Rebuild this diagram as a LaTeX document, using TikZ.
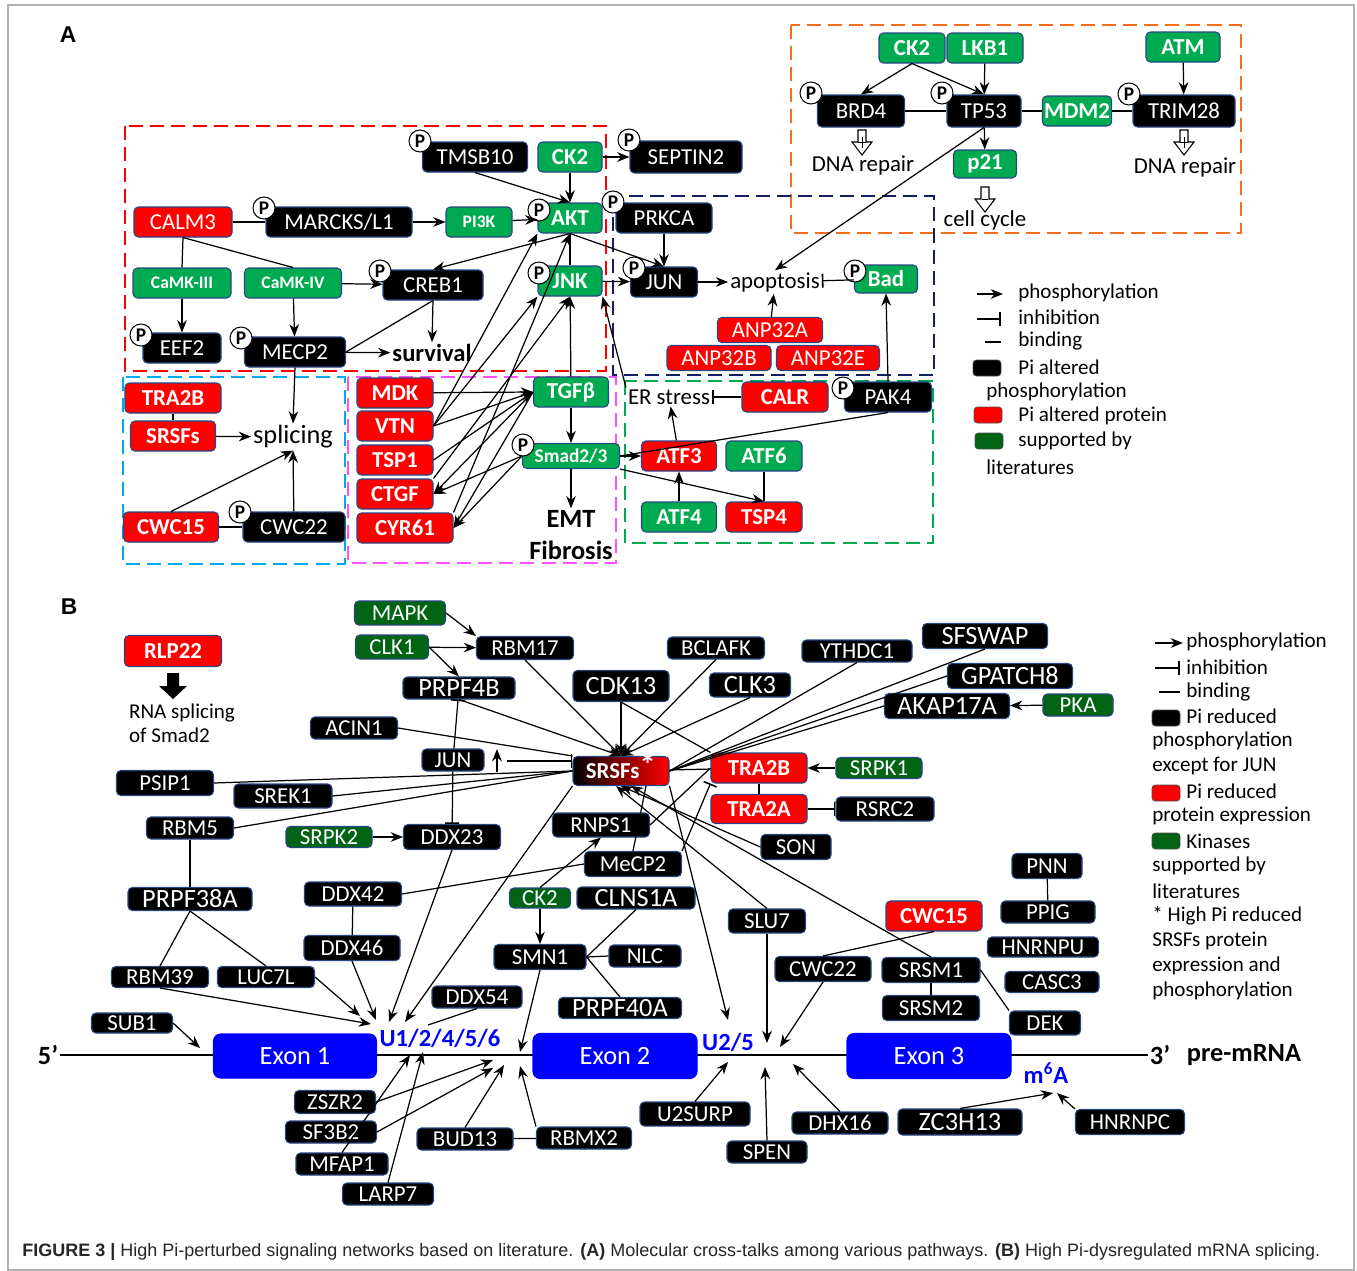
\documentclass[tikz,border=0pt]{standalone}
\usepackage{fontspec}
\setmainfont{Carlito}
\newfontfamily\capfont{Liberation Sans}
\usepackage{graphicx}
\usetikzlibrary{arrows.meta}

\definecolor{boxline}{RGB}{40,70,130}
\definecolor{pired}{RGB}{255,0,0}
\definecolor{agreen}{RGB}{0,170,80}
\definecolor{bgreen}{RGB}{0,100,20}
\definecolor{exblue}{RGB}{0,0,255}
\definecolor{dorange}{RGB}{245,110,30}
\definecolor{dnavy}{RGB}{20,30,100}
\definecolor{dcyan}{RGB}{0,170,240}
\definecolor{dmag}{RGB}{255,80,255}

\tikzset{
  bw/.style={minimum width=#1*0.02cm},
  bh/.style={minimum height=#1*0.02cm},
  box/.style={rectangle, rounded corners=2.5pt, draw=boxline, line width=0.6pt,
    text=white, inner sep=1pt, font=\fontsize{13}{15}\selectfont},
  blk/.style={box, fill=black, bh=30},
  rd/.style={box, fill=pired, bh=30},
  rdb/.style={rd, font=\fontsize{13}{15}\selectfont\bfseries},
  ga/.style={box, fill=agreen, bh=30, font=\fontsize{13}{15}\selectfont\bfseries},
  gas/.style={ga, font=\fontsize{10}{12}\selectfont\bfseries},
  bb/.style={box, fill=black, bh=23},
  gb/.style={box, fill=bgreen, bh=23},
  big/.style={font=\fontsize{15}{17}\selectfont},
  exon/.style={box, fill=exblue, draw=exblue, rounded corners=4pt, bw=164, bh=45,
    font=\fontsize{15}{17}\selectfont},
  txt/.style={inner sep=1pt, font=\fontsize{13}{15}\selectfont},
  lgt/.style={inner sep=0pt, anchor=west, font=\fontsize{12}{14}\selectfont},
  lgbox/.style={rectangle, rounded corners=2pt, draw=black!70, line width=0.5pt,
    bw=28, bh=16, inner sep=0pt},
  pc/.style={circle, draw, fill=white, line width=0.6pt, inner sep=0pt,
    minimum size=0.44cm, font=\fontsize{11}{11}\selectfont\bfseries},
  lab/.style={inner sep=0pt, font=\capfont\fontsize{13}{15}\selectfont\bfseries},
  blue/.style={inner sep=1pt, text=exblue, font=\fontsize{14}{16}\selectfont\bfseries},
  dbox/.style={line width=1.1pt, dash pattern=on 8pt off 4pt},
  ar/.style={-{Stealth[length=7pt,width=5.5pt]}, line width=0.7pt},
  inh/.style={-{Bar[width=8pt,line width=0.9pt]}, line width=0.7pt},
  bd/.style={line width=0.7pt},
  harr/.pic={\draw[line width=0.6pt, fill=white] (-4,0) -- (4,0) -- (4,12) -- (10,12)
    -- (0,25) -- (-10,12) -- (-4,12) -- cycle;}
}

\begin{document}
\begin{tikzpicture}[x=0.02cm, y=-0.02cm]
\useasboundingbox (0,0) rectangle (1357,1271);
\draw[gray!60, line width=0.8pt] (8,5) rectangle (1354,1270);

\node[lab] (labA) at (68,35) {A};
\node[lab] (labB) at (69,607) {B};

% ---------------- panel A: frames
\draw[dbox, draw=pired] (125,126) rectangle (606,371);
\draw[dbox, draw=dorange] (791,25) rectangle (1241,233);
\draw[dbox, draw=dnavy] (613,196) rectangle (934,375);
\draw[dbox, draw=dcyan] (123,377) rectangle (345,564);
\draw[dbox, draw=dmag] (348,377) rectangle (616,563);
\draw[dbox, draw=agreen] (625,381) rectangle (933,543);

% ---------------- panel A: nodes
\node[blk, bw=105] (tmsb) at (475,157) {TMSB10};
\node[ga, bw=64] (cka) at (570,157) {CK2};
\node[blk, bw=112, bh=32] (sept) at (686,157) {SEPTIN2};
\node[rd, bw=98] (calm) at (183,222) {CALM3};
\node[blk, bw=146] (marcks) at (339,222) {MARCKS/L1};
\node[gas, bw=66] (pik) at (479,222) {PI3K};
\node[ga, bw=64] (akt) at (570,218) {AKT};
\node[blk, bw=96] (prkca) at (664,218) {PRKCA};
\node[gas, bw=98] (camkc) at (182,283) {CaMK-III};
\node[gas, bw=97] (camkd) at (293,283) {CaMK-IV};
\node[blk, bw=100] (creb) at (433,285) {CREB1};
\node[ga, bw=64] (jnk) at (570,281) {JNK};
\node[blk, bw=67] (juna) at (664,282) {JUN};
\node[txt] (apop) at (775,282) {apoptosis};
\node[ga, bw=63, bh=28] (bad) at (886,279) {Bad};
\node[blk, bw=78] (eef) at (182,348) {EEF2};
\node[blk, bw=101] (mecpa) at (295,352) {MECP2};
\node[txt, font=\fontsize{14}{16}\selectfont\bfseries] (surv) at (432,353) {survival};
\node[rd, bw=105, bh=25] (anpa) at (770,330) {ANP32A};
\node[rd, bw=104, bh=25] (anpb) at (719,358) {ANP32B};
\node[rd, bw=103, bh=25] (anpe) at (828,358) {ANP32E};

\node[ga, bw=66] (ckb) at (912,48) {CK2};
\node[ga, bw=76] (lkb) at (985,48) {LKB1};
\node[ga, bw=74] (atm) at (1183,47) {ATM};
\node[blk, bw=87, bh=32] (brd) at (861,111) {BRD4};
\node[blk, bw=74, bh=32] (tp) at (984,111) {TP53};
\node[ga, bw=66] (mdm) at (1077,111) {MDM2};
\node[blk, bw=102, bh=32] (trim) at (1184,111) {TRIM28};
\node[ga, bw=63, bh=28] (pto) at (985,164) {p21};
\node[txt] (dnal) at (863,165) {DNA repair};
\node[txt] (dnar) at (1185,167) {DNA repair};
\node[txt] (cellc) at (985,220) {cell cycle};
\pic at (862,130) {harr};
\pic at (1184,130) {harr};
\pic at (985,187) {harr};
\draw[line width=0.5pt] (862,137) -- (862,148) (858,142) -- (866,142);
\draw[line width=0.5pt] (1184,137) -- (1184,148) (1180,142) -- (1188,142);
\draw[line width=0.5pt] (982,199) -- (988,199);

\node[rdb, bw=96] (trab) at (173,398) {TRA2B};
\node[rdb, bw=85] (srsa) at (173,436) {SRSFs};
\node[txt, font=\fontsize{15}{17}\selectfont] (splc) at (293,437) {splicing};
\node[rdb, bw=95] (cwoa) at (171,527) {CWC15};
\node[blk, bw=102] (cwta) at (294,527) {CWC22};
\node[rdb, bw=76] (mdk) at (395,393) {MDK};
\node[rdb, bw=76] (vtn) at (395,426) {VTN};
\node[rdb, bw=76] (tspo) at (395,460) {TSP1};
\node[rdb, bw=76] (ctgf) at (395,494) {CTGF};
\node[rdb, bw=96] (cyr) at (405,528) {CYR61};
\node[ga, bw=75] (tgfb) at (571,392) {TGFβ};
\node[ga, bw=97, bh=25, font=\fontsize{11}{13}\selectfont\bfseries] (smad) at (571,456) {Smad2/3};
\node[txt, font=\fontsize{15}{17}\selectfont\bfseries] (emt) at (571,519) {EMT};
\node[txt, font=\fontsize{15}{17}\selectfont\bfseries] (fib) at (571,550) {Fibrosis};

\node[txt] (ers) at (669,397) {ER stress};
\node[rdb, bw=86] (calr) at (785,397) {CALR};
\node[blk, bw=87] (pak) at (888,397) {PAK4};
\node[rdb, bw=75] (atfc) at (679,456) {ATF3};
\node[ga, bw=76] (atff) at (764,456) {ATF6};
\node[ga, bw=75] (atfd) at (679,517) {ATF4};
\node[rdb, bw=76] (tspf) at (764,517) {TSP4};

\foreach \x/\y [count=\i] in {420/141, 629/140, 264/208, 539/210, 613/202, 380/271,
  539/273, 634/268, 855/271, 141/335, 241/338, 811/93, 942/93, 1129/94, 240/512,
  523/445, 843/388}
  \node[pc] (pa\i) at (\x,\y) {P};

% ---------------- panel A: edges
\draw[bd] (calm) -- (marcks);
\draw[ar] (marcks) -- (pik);
\draw[ar] (pik) -- (akt);
\draw[ar] (tmsb.south) -- (akt.north);
\draw[ar] (cka) -- (akt);
\draw[ar] (cka) -- (sept);
\draw[bd] (akt) -- (jnk);
\draw[ar] (akt.south) -- (creb.north);
\draw[ar] (akt.south) -- (juna.north);
\draw[ar] (prkca) -- (juna);
\draw[ar] (jnk) -- (juna);
\draw[ar] (juna) -- (apop);
\draw[inh] (bad) -- (apop);
\draw[ar] (anpa) -- (apop);
\draw[ar] (pak.north) -- (bad.south);
\draw[ar] (tp.south) -- (apop.north);
\draw[bd] (calm.south) -- (camkc.north);
\draw[bd] (calm.south) -- (camkd.north);
\draw[ar] (camkc) -- (eef);
\draw[ar] (camkd) -- (mecpa);
\draw[ar] (camkd) -- (creb);
\draw[ar] (creb.south) -- (surv.north);
\draw[ar] (mecpa) -- (surv);
\draw[bd] (mecpa.east) -- (creb.south);
\draw[ar] (mecpa.south) -- (splc.north);
\draw[bd] (trab) -- (srsa);
\draw[ar] (srsa) -- (splc);
\draw[ar] (cwoa.north) -- (splc.south);
\draw[bd] (cwoa) -- (cwta);
\draw[ar] (cwta) -- (splc.south);
\draw[ar] (mdk) -- (tgfb.west);
\draw[ar] (vtn.east) -- (tgfb.west);
\draw[ar] (tspo.east) -- (tgfb.west);
\draw[ar] (tgfb.west) -- (ctgf.east);
\draw[ar] (tgfb.west) -- (cyr.east);
\draw[ar] (smad.west) -- (ctgf.east);
\draw[ar] (smad.west) -- (cyr.east);
\draw[ar] (vtn.east) -- (akt.south west);
\draw[ar] (vtn.east) -- (jnk.south west);
\draw[ar] (cyr.north east) -- (akt.south);
\draw[ar] (ctgf.north east) -- (jnk.south);
\draw[ar] (tgfb) -- (jnk);
\draw[ar] (tgfb) -- (smad);
\draw[ar] (smad) -- (emt);
\draw[ar] (smad) -- (atfc);
\draw[ar] (smad.south east) -- (tspf.north);
\draw[bd] (smad.east) -- (pak.south);
\draw[inh] (calr) -- (ers);
\draw[ar] (atfc) -- (ers);
\draw[ar] (atfd) -- (atfc);
\draw[bd] (atff) -- (tspf);
\draw[ar] (ers.north west) -- (jnk.south east);
\draw[ar] (ckb.south) -- (brd.north);
\draw[ar] (ckb.south) -- (tp.north);
\draw[ar] (lkb) -- (tp);
\draw[ar] (atm) -- (trim);
\draw[bd] (brd) -- (tp);
\draw[bd] (tp) -- (mdm);
\draw[bd] (mdm) -- (trim);
\draw[ar] (tp) -- (pto);

% ---------------- panel A: legend
\coordinate (la1) at (977,294); \coordinate (la2) at (1003,294);
\coordinate (la3) at (977,319); \coordinate (la4) at (1001,319);
\coordinate (la5) at (985,342); \coordinate (la6) at (1001,342);
\draw[ar] (la1) -- (la2);
\draw[inh] (la3) -- (la4);
\draw[bd] (la5) -- (la6);
\node[lgbox, fill=black] (lka) at (987,368) {};
\node[lgbox, fill=pired] (lkb) at (988,415) {};
\node[lgbox, fill=bgreen] (lkc) at (989,441) {};
\foreach \t/\x/\y in {phosphorylation/1018/293, inhibition/1018/317, binding/1018/341,
  Pi altered/1018/367, phosphorylation/986/392, Pi altered protein/1018/416,
  supported by/1018/441, literatures/986/467}
  \node[lgt] at (\x,\y) {\t};

% ---------------- panel B: nodes
\node[gb, bw=91, bh=24] (mapk) at (400,613) {MAPK};
\node[gb, bw=73, bh=24] (clko) at (392,647) {CLK1};
\node[bb, bw=97] (rbms) at (525,648) {RBM17};
\node[rdb, bw=97, bh=31] (rlp) at (173,651) {RLP22};
\fill (167,673) -- (179,673) -- (179,686) -- (187,686) -- (173,699) -- (159,686)
  -- (167,686) -- cycle;
\node[txt, anchor=west, align=left, font=\fontsize{12}{13.6}\selectfont] (rnas) at (127,723)
  {RNA splicing\\of Smad2};
\node[bb, big, bw=112, bh=22] (prpf) at (459,688) {PRPF4B};
\node[bb, bw=87, bh=22] (acin) at (354,728) {ACIN1};
\node[bb, bw=97, bh=22] (bclafk) at (716,648) {BCLAFK};
\node[bb, big, bw=96, bh=31] (cdk) at (621,686) {CDK13};
\node[bb, big, bw=81, bh=24] (clkt) at (750,685) {CLK3};
\node[bb, bw=110, bh=22] (ythdc) at (857,651) {YTHDC1};
\node[bb, big, bw=125, bh=25] (sfswap) at (985,636) {SFSWAP};
\node[bb, big, bw=125, bh=25] (gpatch) at (1010,676) {GPATCH8};
\node[bb, big, bw=125, bh=25] (akap) at (947,706) {AKAP17A};
\node[gb, bw=70, bh=22] (pka) at (1078,705) {PKA};
\node[bb, bw=62, bh=22] (junb) at (453,760) {JUN};
\node[box, shading=axis, shading angle=60, left color=black, middle color=black,
  right color=pired, bw=96, bh=29, font=\fontsize{13}{15}\selectfont\bfseries]
  (srsf) at (621,771) {SRSFs\smash{\raisebox{1pt}{\fontsize{19}{19}\selectfont *}}};
\node[bb, bw=97, bh=25] (psip) at (165,783) {PSIP1};
\node[bb, bw=98, bh=24] (srek) at (283,796) {SREK1};
\node[bb, bw=87, bh=22] (rbmf) at (190,828) {RBM5};
\node[rdb, bw=96] (trabb) at (759,768) {TRA2B};
\node[gb, bw=86, bh=21] (srpko) at (879,768) {SRPK1};
\node[rdb, bw=96, bh=29] (traab) at (759,809) {TRA2A};
\node[bb, bw=98, bh=24] (rsrc) at (885,809) {RSRC2};
\node[gb, bw=86, bh=21] (srpkt) at (329,837) {SRPK2};
\node[bb, bw=97, bh=25] (ddxa) at (452,837) {DDX23};
\node[bb, bw=97, bh=24] (rnps) at (601,825) {RNPS1};
\node[bb, bw=70, bh=25] (son) at (796,847) {SON};
\node[bb, bw=97, bh=25] (mecpb) at (633,864) {MeCP2};
\node[bb, bw=70, bh=25] (pnn) at (1047,866) {PNN};
\node[bb, big, bw=124, bh=23] (prpfa) at (190,899) {PRPF38A};
\node[bb, bw=97, bh=24] (ddxb) at (353,894) {DDX42};
\node[gb, bw=61, bh=20] (ckc) at (540,898) {CK2};
\node[bb, big, bw=118, bh=22] (clns) at (636,898) {CLNS1A};
\node[bb, bw=77, bh=24] (slu) at (767,921) {SLU7};
\node[rdb, bw=96] (cwob) at (934,916) {CWC15};
\node[bb, bw=94, bh=22] (ppig) at (1048,912) {PPIG};
\node[bb, bw=96, bh=25] (ddxc) at (352,948) {DDX46};
\node[bb, bw=92, bh=25] (smn) at (540,957) {SMN1};
\node[bb, bw=72, bh=22] (nlc) at (645,956) {NLC};
\node[bb, bw=111, bh=20] (hnrnpu) at (1043,947) {HNRNPU};
\node[bb, bw=97, bh=21] (rbmt) at (160,977) {RBM39};
\node[bb, bw=97, bh=21] (luc) at (266,977) {LUC7L};
\node[bb, bw=96, bh=25] (cwtb) at (823,969) {CWC22};
\node[bb, bw=98, bh=25] (srsma) at (931,970) {SRSM1};
\node[bb, bw=94, bh=21] (casc) at (1052,982) {CASC3};
\node[bb, bw=90, bh=22] (ddxd) at (477,997) {DDX54};
\node[bb, big, bw=123, bh=21] (prpfb) at (620,1008) {PRPF40A};
\node[bb, bw=97, bh=25] (srsmb) at (931,1008) {SRSM2};
\node[bb, bw=71, bh=24] (dek) at (1045,1023) {DEK};
\node[bb, bw=81, bh=20] (sub) at (132,1023) {SUB1};

\node[txt, font=\fontsize{15}{17}\selectfont\bfseries] (five) at (48,1055) {5’};
\node[txt, font=\fontsize{15}{17}\selectfont\bfseries] (three) at (1160,1055) {3’};
\node[txt, font=\fontsize{15}{17}\selectfont\bfseries] (pre) at (1244,1055) {pre-mRNA};
\draw[line width=0.9pt] (five.east) -- (three.west);
\node[exon, bw=163, bh=44] (exa) at (295,1056) {Exon 1};
\node[exon] (exb) at (615,1056) {Exon 2};
\node[exon] (exc) at (929,1056) {Exon 3};
\node[blue] (ulab) at (440,1038) {U1/2/4/5/6};
\node[blue] (uvlab) at (728,1042) {U2/5};
\node[blue] (mlab) at (1046,1073) {m\textsuperscript{6}A};

\node[bb, bw=81, bh=23] (zszr) at (335,1102) {ZSZR2};
\node[bb, bw=91, bh=22] (sfb) at (331,1132) {SF3B2};
\node[bb, bw=92, bh=22] (mfap) at (342,1164) {MFAP1};
\node[bb, bw=91, bh=22] (larp) at (388,1194) {LARP7};
\node[bb, bw=96, bh=22] (bud) at (465,1139) {BUD13};
\node[bb, bw=95, bh=22] (rbmx) at (584,1138) {RBMX2};
\node[bb, bw=110, bh=24] (usurp) at (695,1114) {U2SURP};
\node[bb, bw=80, bh=22] (spen) at (767,1152) {SPEN};
\node[bb, bw=96, bh=22] (dhx) at (840,1123) {DHX16};
\node[bb, big, bw=124, bh=26] (zch) at (960,1122) {ZC3H13};
\node[bb, bw=109, bh=25] (hnrnpc) at (1130,1122) {HNRNPC};

% ---------------- panel B: end points on the pre-mRNA
\coordinate (ua) at (371,1024); \coordinate (ub) at (360,1016);
\coordinate (uc) at (376,1020); \coordinate (ud) at (389,1022);
\coordinate (ue) at (405,1022); \coordinate (uf) at (428,1025);
\coordinate (ug) at (410,1055); \coordinate (uh) at (423,1052);
\coordinate (ja) at (493,1060); \coordinate (jb) at (493,1068);
\coordinate (jc) at (504,1065); \coordinate (jd) at (520,1066);
\coordinate (je) at (520,1052);
\coordinate (va) at (728,1020); \coordinate (vb) at (767,1043);
\coordinate (vc) at (780,1047); \coordinate (vd) at (728,1062);
\coordinate (ve) at (765,1067); \coordinate (vf) at (793,1064);
\coordinate (ma) at (1053,1093); \coordinate (mb) at (1057,1093);
\coordinate (xa) at (200,1048);
\coordinate (jua) at (497,772); \coordinate (jub) at (497,749);
\coordinate (juc) at (507,761);

% ---------------- panel B: edges
\draw[ar] (mapk.east) -- (rbms.north west);
\draw[ar] (clko) -- (rbms);
\draw[ar] (clko.east) -- (prpf.north);
\draw[ar] (rbms.south) -- (srsf.north);
\draw[ar] (prpf.south) -- (srsf.north);
\draw[ar] (cdk) -- (srsf);
\draw[ar] (bclafk.south) -- (srsf.north);
\draw[ar] (clkt.south) -- (srsf.north);
\draw[bd] (acin.east) -- (srsf.north west);
\draw[bd] (psip.east) -- (srsf.west);
\draw[bd] (srek.east) -- (srsf.west);
\draw[bd] (rbmf.east) -- (srsf.west);
\draw[ar, line width=1.1pt] (jua) -- (jub);
\draw[inh] (juc) -- (juc -| srsf.west);
\draw[inh] (junb) -- (prpf);
\draw[inh] (junb) -- (ddxa);
\draw[ar] (srpkt) -- (ddxa);
\draw[bd] (cdk.south) -- (trabb.north west);
\draw[bd] (ythdc.south) -- (srsf.east);
\draw[bd] (sfswap.south) -- (srsf.east);
\draw[bd] (gpatch.west) -- (srsf.east);
\draw[bd] (akap.west) -- (srsf.east);
\draw[ar] (pka) -- (akap);
\draw[bd] (srsf) -- (trabb);
\draw[ar] (srpko) -- (trabb);
\draw[bd] (trabb) -- (traab);
\draw[inh] (traab) -- (rsrc);
\draw[inh] (mecpb.north east) -- (trabb.south west);
\draw[bd] (rnps.east) -- (trabb.west);
\draw[bd] ([xshift=0.5cm]srsf.south) -- (mecpb.north);
\draw[ar] (son.west) -- (srsf.south);
\draw[ar] (srsma.north) -- ([xshift=0.2cm]srsf.south);
\draw[ar] (slu.north) -- ([xshift=-0.1cm]srsf.south);
\draw[ar] (srsf.south east) -- (va);
\draw[ar] (srsf.south west) -- (ue);
\draw[ar] (ddxa.south) -- (ud);
\draw[bd] (ddxb.east) -- (mecpb.west);
\draw[bd] (ddxb) -- (ddxc);
\draw[ar] (ddxc.south) -- (uc);
\draw[ar] (rbmt.south) -- (ua);
\draw[ar] (luc.east) -- (ub);
\draw[bd] (rbmf) -- (prpfa);
\draw[bd] (prpfa.south) -- (rbmt.north);
\draw[bd] (prpfa.south) -- (luc.north);
\draw[bd] (ddxd.south) -- (uf);
\draw[ar] (sub.east) -- (xa);
\draw[ar] (ckc) -- (smn);
\draw[ar] (ckc.north) -- (rnps.south);
\draw[bd] (smn.east) -- (clns.south);
\draw[bd] (smn.east) -- (nlc.west);
\draw[bd] (smn.east) -- (prpfb.north);
\draw[ar] (smn.south) -- (je);
\draw[ar] (mfap.north) -- (ug);
\draw[ar] (larp.north) -- (uh);
\draw[ar] (zszr.east) -- (ja);
\draw[ar] (sfb.east) -- (jb);
\draw[ar] (bud.north) -- (jc);
\draw[ar] (rbmx.north west) -- (jd);
\draw[bd] (bud) -- (rbmx);
\draw[ar] (slu) -- (vb);
\draw[bd] (cwob.south) -- (cwtb.north);
\draw[ar] (cwtb.south) -- (vc);
\draw[bd] (srsma) -- (srsmb);
\draw[bd] (srsma.east) -- (dek.north west);
\draw[bd] (pnn) -- (ppig);
\draw[ar] (usurp.north) -- (vd);
\draw[ar] (spen.north) -- (ve);
\draw[ar] (dhx.north) -- (vf);
\draw[ar] (zch.north) -- (ma);
\draw[ar] (hnrnpc.north west) -- (mb);

% ---------------- panel B: legend
\coordinate (lb1) at (1155,643); \coordinate (lb2) at (1183,643);
\coordinate (lb3) at (1155,668); \coordinate (lb4) at (1180,668);
\coordinate (lb5) at (1159,692); \coordinate (lb6) at (1180,692);
\draw[ar] (lb1) -- (lb2);
\draw[inh] (lb3) -- (lb4);
\draw[bd] (lb5) -- (lb6);
\node[lgbox, fill=black] (lkd) at (1166,718) {};
\node[lgbox, fill=pired] (lke) at (1166,793) {};
\node[lgbox, fill=bgreen] (lkf) at (1166,841) {};
\foreach \t/\x/\y in {phosphorylation/1186/642, inhibition/1186/667, binding/1186/692,
  Pi reduced/1186/716, phosphorylation/1152/741, except for JUN/1152/766,
  Pi reduced/1186/791, protein expression/1152/816, Kinases/1186/841,
  supported by/1152/866, literatures/1152/891, * High Pi reduced/1152/916,
  SRSFs protein/1152/941, expression and/1152/966, phosphorylation/1152/991}
  \node[lgt] at (\x,\y) {\t};

% ---------------- caption
\node[anchor=west, inner sep=0pt, text=black!85, font=\capfont\fontsize{11}{13}\selectfont]
  (cap) at (22,1252) {\resizebox{25.96cm}{!}{\textbf{FIGURE 3 |} High Pi-perturbed
  signaling networks based on literature. \textbf{(A)} Molecular cross-talks among various
  pathways. \textbf{(B)} High Pi-dysregulated mRNA splicing.}};
\end{tikzpicture}
\end{document}
